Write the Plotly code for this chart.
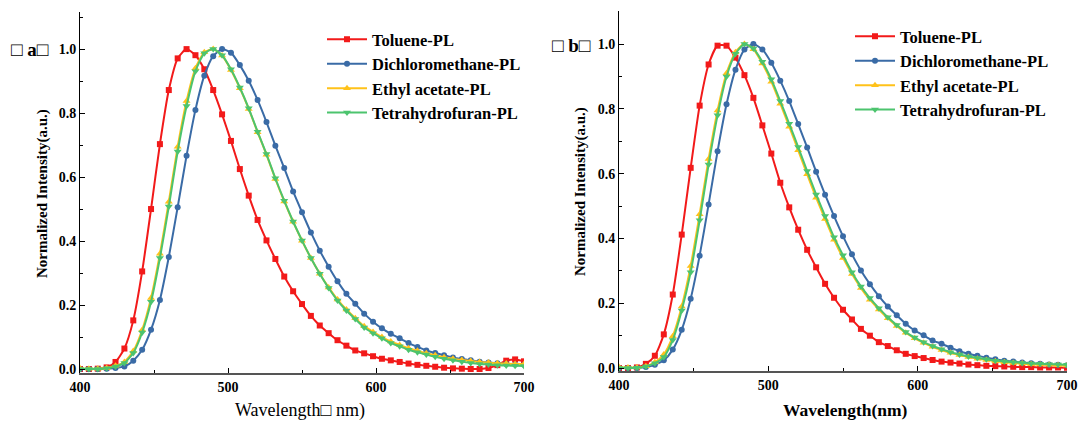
import plotly.graph_objects as go

W, H = 1081, 423

wavelength = list(range(400, 701, 6))
series_names = ["Toluene-PL", "Dichloromethane-PL", "Ethyl acetate-PL", "Tetrahydrofuran-PL"]

a_toluene = [0.0, 0.0, 0.001, 0.005, 0.022, 0.064, 0.152, 0.305, 0.50, 0.703,
             0.872, 0.971, 1.0, 0.981, 0.937, 0.872, 0.796, 0.713, 0.625, 0.542,
             0.466, 0.402, 0.344, 0.289, 0.243, 0.203, 0.166, 0.136, 0.112, 0.090,
             0.073, 0.058, 0.049, 0.040, 0.032, 0.027, 0.022, 0.017, 0.013, 0.010,
             0.007, 0.004, 0.002, 0.001, 0.0, 0.0, 0.003, 0.012, 0.026, 0.030, 0.024]
a_dcm = [0.0, 0.0, 0.0, 0.001, 0.003, 0.008, 0.026, 0.06, 0.123, 0.216,
         0.35, 0.506, 0.667, 0.81, 0.917, 0.978, 1.0, 0.989, 0.95, 0.901,
         0.841, 0.772, 0.698, 0.628, 0.555, 0.49, 0.427, 0.37, 0.32, 0.274,
         0.235, 0.204, 0.173, 0.148, 0.127, 0.11, 0.096, 0.081, 0.069, 0.058,
         0.05, 0.043, 0.036, 0.031, 0.027, 0.023, 0.02, 0.018, 0.016, 0.014, 0.013]
a_ea = [0.002, 0.001, 0.001, 0.003, 0.01, 0.022, 0.056, 0.122, 0.222, 0.36,
        0.523, 0.695, 0.838, 0.94, 0.99, 1.0, 0.98, 0.935, 0.878, 0.813,
        0.74, 0.67, 0.594, 0.524, 0.46, 0.401, 0.347, 0.298, 0.255, 0.217,
        0.186, 0.159, 0.134, 0.116, 0.1, 0.086, 0.075, 0.065, 0.057, 0.049,
        0.043, 0.037, 0.032, 0.028, 0.025, 0.022, 0.02, 0.018, 0.017, 0.016, 0.016]
a_thf = [0.0, 0.0, 0.0, 0.002, 0.008, 0.019, 0.05, 0.114, 0.21, 0.347,
         0.508, 0.68, 0.822, 0.931, 0.987, 1.0, 0.981, 0.937, 0.88, 0.815,
         0.742, 0.672, 0.596, 0.526, 0.461, 0.402, 0.347, 0.298, 0.253, 0.214,
         0.183, 0.156, 0.13, 0.112, 0.096, 0.081, 0.071, 0.06, 0.052, 0.045,
         0.038, 0.032, 0.027, 0.023, 0.019, 0.016, 0.014, 0.012, 0.011, 0.010, 0.009]

b_toluene = [0.0, 0.0, 0.002, 0.013, 0.038, 0.104, 0.227, 0.412, 0.618, 0.81,
             0.937, 0.995, 0.995, 0.958, 0.904, 0.834, 0.749, 0.662, 0.572, 0.496,
             0.427, 0.365, 0.311, 0.26, 0.217, 0.18, 0.15, 0.121, 0.1, 0.08,
             0.068, 0.055, 0.044, 0.037, 0.031, 0.025, 0.02, 0.017, 0.014, 0.011,
             0.009, 0.007, 0.006, 0.005, 0.004, 0.003, 0.003, 0.002, 0.002, 0.002, 0.001]
b_dcm = [0.0, 0.0, 0.0, 0.003, 0.01, 0.024, 0.057, 0.118, 0.214, 0.347,
         0.505, 0.669, 0.814, 0.921, 0.983, 1.0, 0.983, 0.942, 0.887, 0.824,
         0.753, 0.681, 0.606, 0.535, 0.469, 0.407, 0.351, 0.301, 0.259, 0.222,
         0.19, 0.163, 0.137, 0.116, 0.101, 0.085, 0.075, 0.063, 0.052, 0.044,
         0.038, 0.032, 0.027, 0.023, 0.02, 0.017, 0.015, 0.013, 0.011, 0.01, 0.009]
b_ea = [0.003, 0.002, 0.002, 0.006, 0.018, 0.042, 0.098, 0.19, 0.315, 0.475,
        0.645, 0.795, 0.91, 0.975, 1.0, 0.984, 0.94, 0.884, 0.816, 0.745,
        0.672, 0.598, 0.526, 0.46, 0.396, 0.34, 0.29, 0.247, 0.211, 0.181,
        0.154, 0.13, 0.109, 0.092, 0.078, 0.066, 0.056, 0.047, 0.04, 0.034,
        0.029, 0.025, 0.021, 0.018, 0.016, 0.014, 0.012, 0.011, 0.01, 0.009, 0.008]
b_thf = [0.0, 0.0, 0.001, 0.005, 0.015, 0.034, 0.087, 0.178, 0.296, 0.456,
         0.628, 0.78, 0.9, 0.97, 1.0, 0.986, 0.945, 0.891, 0.824, 0.754,
         0.682, 0.608, 0.536, 0.469, 0.404, 0.348, 0.296, 0.252, 0.216, 0.185,
         0.157, 0.133, 0.111, 0.094, 0.08, 0.068, 0.058, 0.049, 0.042, 0.036,
         0.031, 0.027, 0.023, 0.02, 0.018, 0.016, 0.014, 0.013, 0.012, 0.011, 0.01]

colors = ["#F21A1A", "#3A6BA6", "#FFC21A", "#4CC46E"]
symbols = ["square", "circle", "triangle-up", "triangle-down"]
msizes = [6, 6, 7, 7]
FONT = "Liberation Serif, Times New Roman, serif"

fig = go.Figure()

panels = [
    ("x", "y", "legend", [a_toluene, a_dcm, a_ea, a_thf]),
    ("x2", "y2", "legend2", [b_toluene, b_dcm, b_ea, b_thf]),
]
for xa, ya, lg, data in panels:
    for name, vals, c, s, ms in zip(series_names, data, colors, symbols, msizes):
        fig.add_trace(go.Scatter(
            x=wavelength, y=vals, name=name, xaxis=xa, yaxis=ya, legend=lg,
            mode="lines+markers", line=dict(color=c, width=2, shape="spline", smoothing=0.6),
            marker=dict(symbol=s, size=ms, color=c),
        ))

TICKFONT = dict(family=FONT, size=14, color="#000", weight="bold")

def xaxis_cfg(domain, color):
    return dict(domain=domain, range=[400, 700], tickvals=[400, 500, 600, 700],
                ticks="inside", ticklen=5, tickwidth=1, tickcolor="#000",
                minor=dict(tickvals=[450, 550, 650], ticks="inside", ticklen=3, tickcolor="#000"),
                showline=True, linecolor=color, linewidth=1.5, showgrid=False, zeroline=False,
                automargin=False, tickfont=TICKFONT)

def yaxis_cfg(domain, rng, anchor):
    return dict(domain=domain, range=rng, anchor=anchor,
                tickvals=[0, 0.2, 0.4, 0.6, 0.8, 1.0], tickformat=".1f",
                ticks="inside", ticklen=5, tickwidth=1, tickcolor="#000",
                minor=dict(tickvals=[0.1, 0.3, 0.5, 0.7, 0.9, 1.1], ticks="inside", ticklen=3, tickcolor="#000"),
                showline=True, linecolor="#000", linewidth=1, showgrid=False, zeroline=False,
                automargin=False, tickfont=TICKFONT)

def legend_cfg(xpx, ypx):
    return dict(x=xpx / W, y=1 - ypx / H, xanchor="left", yanchor="top",
                bgcolor="rgba(0,0,0,0)", borderwidth=0,
                font=dict(family=FONT, size=16.5, color="#000", weight="bold"),
                tracegroupgap=0, itemsizing="trace", itemwidth=40)

fig.update_layout(
    width=W, height=H, margin=dict(l=0, r=0, t=0, b=0, autoexpand=False),
    paper_bgcolor="white", plot_bgcolor="white",
    xaxis=dict(anchor="y", **xaxis_cfg([80 / W, 524 / W], "#555")),
    yaxis=yaxis_cfg([(H - 373) / H, (H - 12) / H], [-0.0125, 1.116], "x"),
    xaxis2=dict(anchor="y2", **xaxis_cfg([619 / W, 1067 / W], "#555")),
    yaxis2=yaxis_cfg([(H - 371) / H, (H - 11) / H], [-0.009, 1.102], "x2"),
    legend=legend_cfg(322, 22),
    legend2=legend_cfg(850, 19),
    showlegend=True,
)

ann = [
    dict(text="<b>Normalized Intensity(a.u.)</b>", x=42 / W, y=1 - 194 / H, textangle=-90, font_size=15),
    dict(text="<b>Normalized Intensity(a.u.)</b>", x=580 / W, y=1 - 192 / H, textangle=-90, font_size=15),
    dict(text="Wavelength\u25a1 nm)", x=300 / W, y=1 - 410 / H, font_size=18),
    dict(text="<b>Wavelength(nm)</b>", x=845 / W, y=1 - 410 / H, font_size=17.5),
    dict(text="<b>\u25a1 a\u25a1</b>", x=30 / W, y=1 - 50 / H, font_size=19),
    dict(text="<b>\u25a1 b\u25a1</b>", x=571 / W, y=1 - 45 / H, font_size=19),
]
for a in ann:
    fig.add_annotation(xref="paper", yref="paper", showarrow=False, xanchor="center", yanchor="middle",
                       text=a["text"], x=a["x"], y=a["y"], textangle=a.get("textangle", 0),
                       font=dict(family=FONT, size=a["font_size"], color="#000"))

fig.write_html("out.html")
